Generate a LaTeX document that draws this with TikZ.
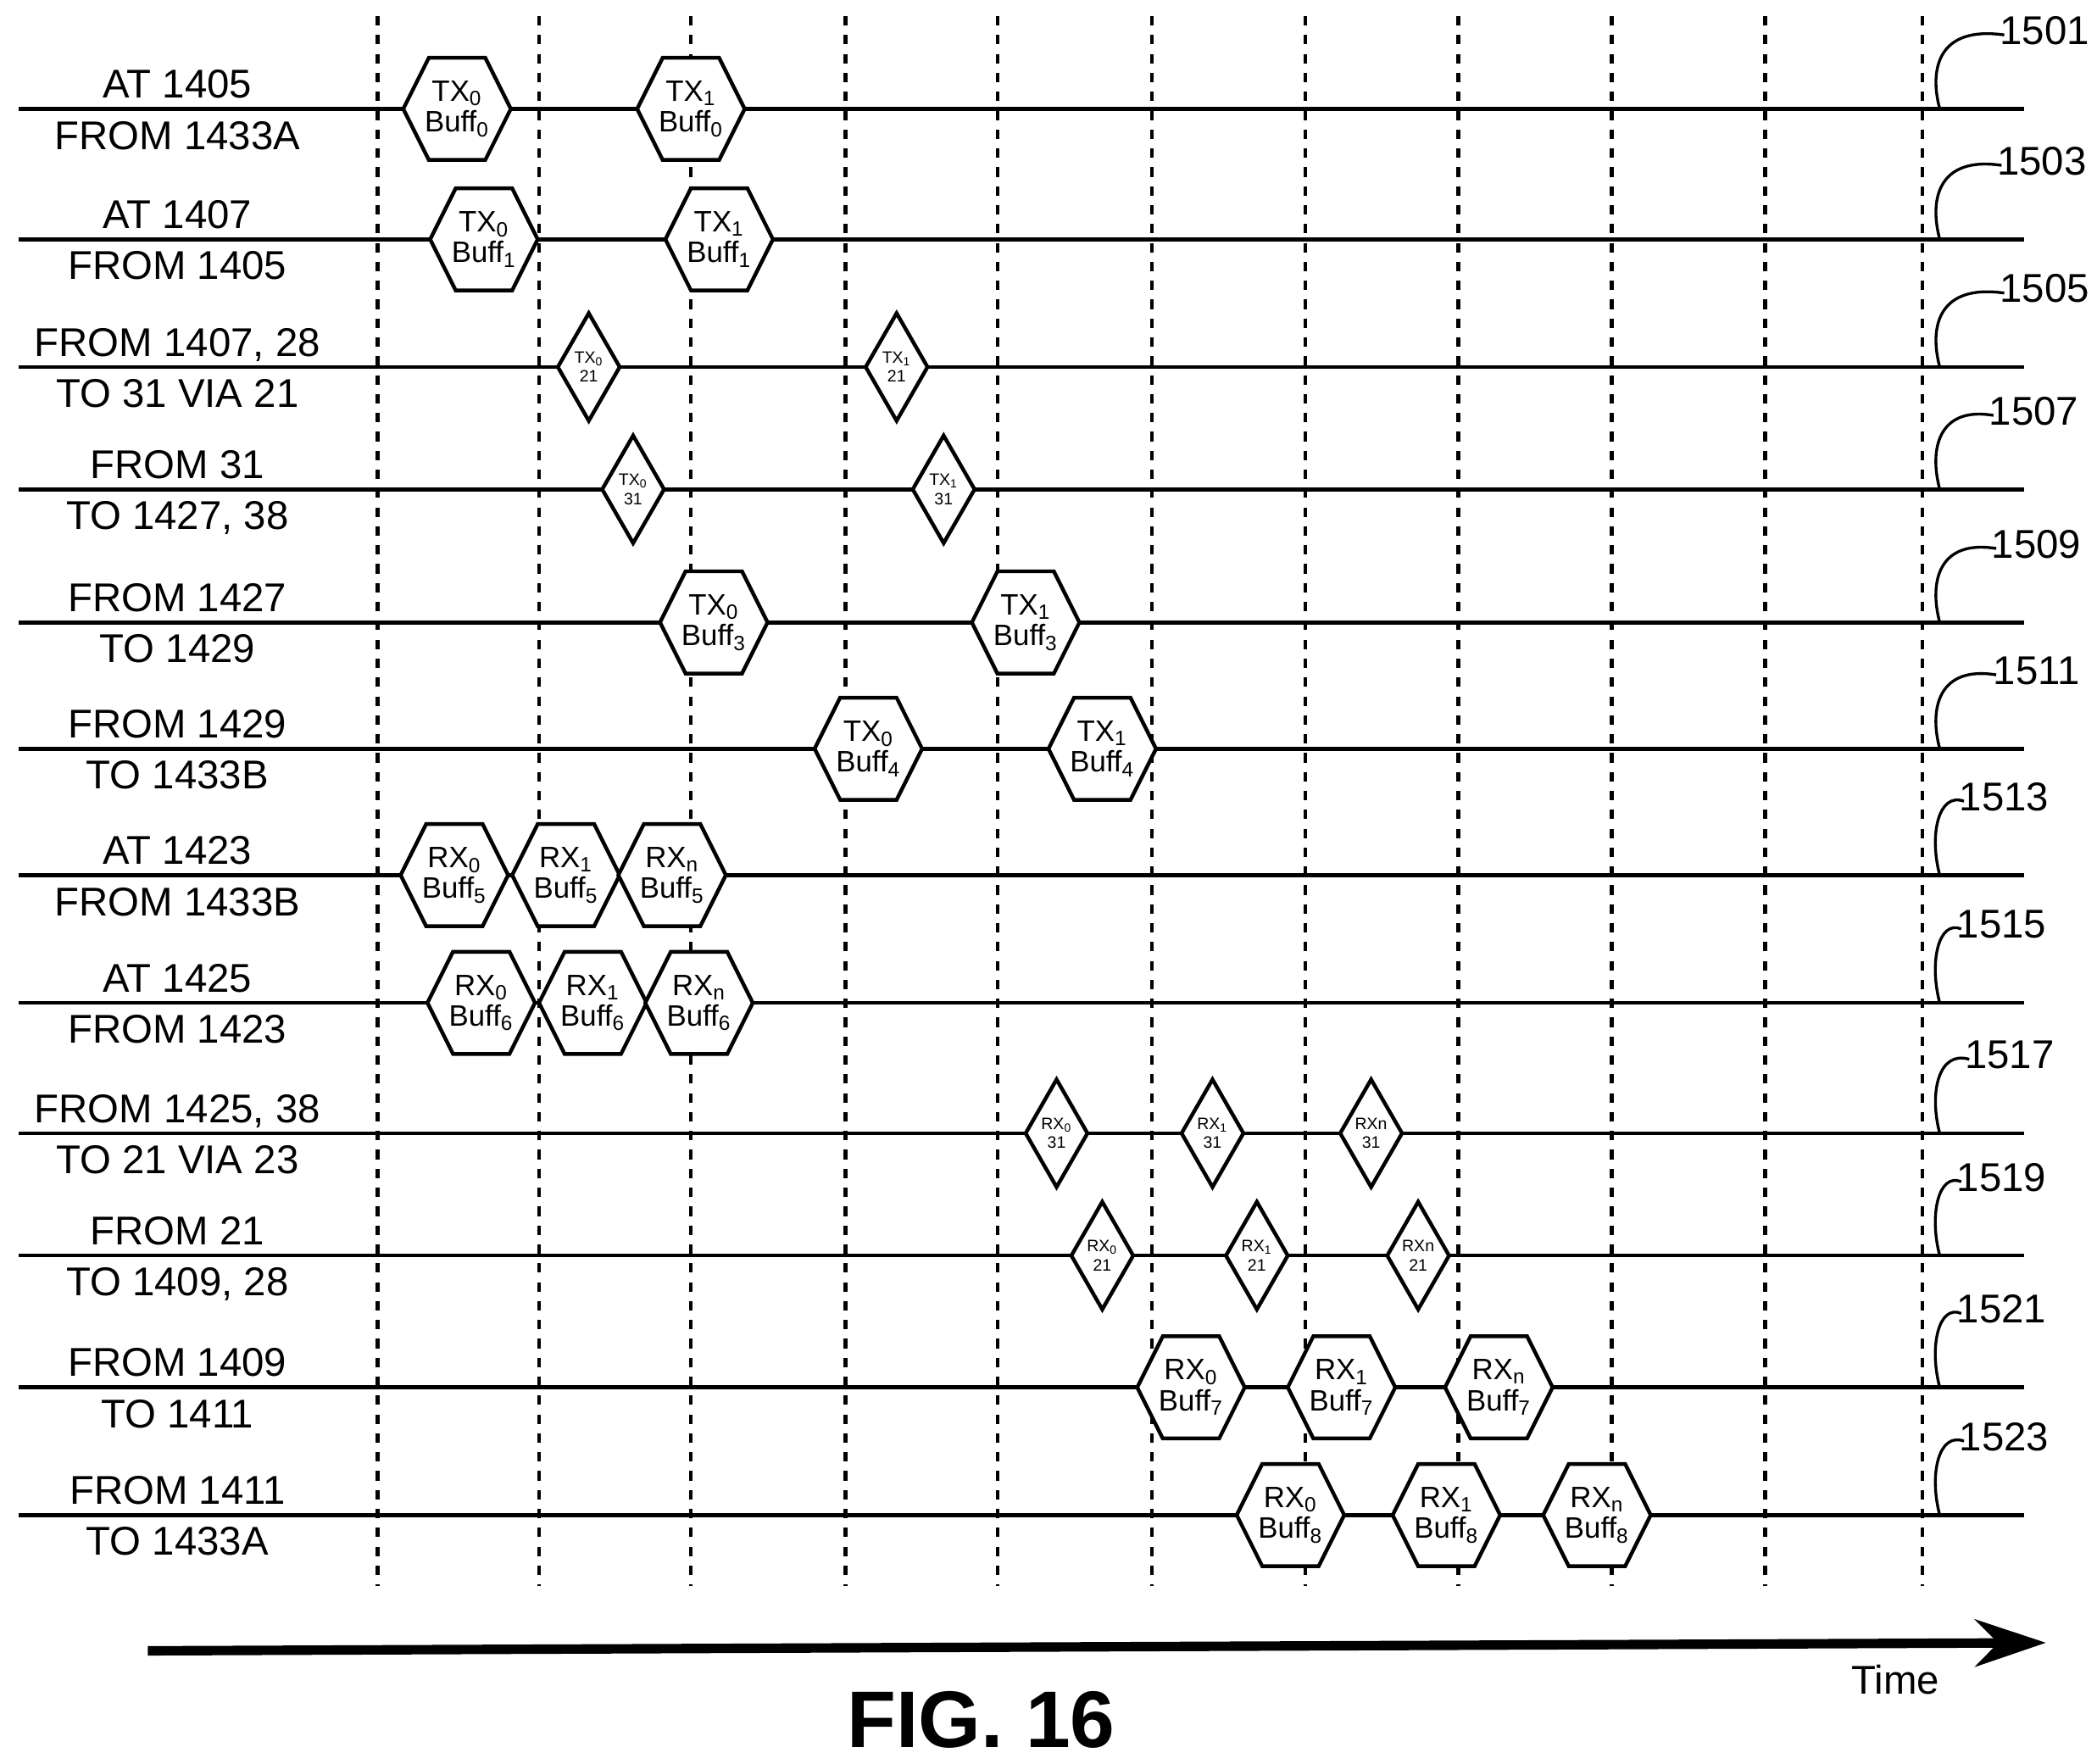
\documentclass[tikz,border=0pt]{standalone}
\usepackage{fontspec}
\setmainfont{Liberation Sans}
\usetikzlibrary{arrows.meta}
\tikzset{
  sig/.style={line width=1.6pt},
  grid/.style={line width=1.6pt, dash pattern=on 4pt off 4pt},
  lbl/.style={font=\fontsize{17}{19}\selectfont},
  hexbox/.style={draw, fill=white, line width=1.6pt},
  hextext/.style={font=\fontsize{12.5}{13}\selectfont, align=center, inner sep=0pt},
  dmdtext/.style={font=\fontsize{7}{8}\selectfont, align=center, inner sep=0pt},
}
\newcommand{\sub}[1]{\textsubscript{#1}}
% hexagon and diamond on a signal line
\newcommand{\hexa}[4]{%
  \filldraw[hexbox] (#2-40,#3) -- (#2-21,#3-38) -- (#2+21,#3-38) -- (#2+40,#3)
    -- (#2+21,#3+38) -- (#2-21,#3+38) -- cycle;
  \node[hextext] (#1) at (#2,#3) {#4};}
\newcommand{\dmd}[4]{%
  \filldraw[hexbox] (#2-23,#3) -- (#2,#3-40) -- (#2+23,#3) -- (#2,#3+40) -- cycle;
  \node[dmdtext] (#1) at (#2,#3) {#4};}
\begin{document}
\begin{tikzpicture}[x=0.02cm, y=-0.02cm]
  \useasboundingbox (0,0) rectangle (1560,1312);

  % time grid
  \foreach \x in {281,401,514,629,742,857,971,1085,1199,1313,1430}
    \draw[grid] (\x,12) -- (\x,1180);

  % signal lines, labels and reference numbers
  \foreach \y/\ta/\tb/\r/\rx in {
      81/AT 1405/FROM 1433A/1501/1527,
      178/AT 1407/FROM 1405/1503/1525,
      273/{FROM 1407, 28}/TO 31 VIA 21/1505/1527,
      364/FROM 31/{TO 1427, 38}/1507/1519,
      463/FROM 1427/TO 1429/1509/1521,
      557/FROM 1429/TO 1433B/1511/1521,
      651/AT 1423/FROM 1433B/1513/1497,
      746/AT 1425/FROM 1423/1515/1495,
      843/{FROM 1425, 38}/TO 21 VIA 23/1517/1501,
      934/FROM 21/{TO 1409, 28}/1519/1495,
      1032/FROM 1409/TO 1411/1521/1495,
      1127/FROM 1411/TO 1433A/1523/1497}{
    \draw[sig] (14,\y) -- (1506,\y);
    \node[lbl, anchor=base] (a\r) at (132,\y-8) {\ta};
    \node[lbl, anchor=base] (b\r) at (132,\y+30) {\tb};
    \node[lbl, anchor=base] (n\r) at (\rx-6,\y-48) {\r};
    \draw[line width=1.2pt] (1443,\y) .. controls (1435,\y-30) and (1442,\y-62) .. (\rx-36,\y-55);
  }

  % 1501 - 1511
  \hexa{t0b0}{340}{81}{TX\sub0\\Buff\sub0}
  \hexa{t1b0}{514}{81}{TX\sub1\\Buff\sub0}
  \hexa{t0b1}{360}{178}{TX\sub0\\Buff\sub1}
  \hexa{t1b1}{535}{178}{TX\sub1\\Buff\sub1}
  \dmd{t0a}{438}{273}{TX\sub0\\21}
  \dmd{t1a}{667}{273}{TX\sub1\\21}
  \dmd{t0c}{471}{364}{TX\sub0\\31}
  \dmd{t1c}{702}{364}{TX\sub1\\31}
  \hexa{t0b3}{531}{463}{TX\sub0\\Buff\sub3}
  \hexa{t1b3}{763}{463}{TX\sub1\\Buff\sub3}
  \hexa{t0b4}{646}{557}{TX\sub0\\Buff\sub4}
  \hexa{t1b4}{820}{557}{TX\sub1\\Buff\sub4}

  % 1513 - 1523
  \foreach \n/\x in {0/338,1/421,n/500}
    {\hexa{r\n b5}{\x}{651}{RX\sub\n\\Buff\sub5}}
  \foreach \n/\x in {0/358,1/441,n/520}
    {\hexa{r\n b6}{\x}{746}{RX\sub\n\\Buff\sub6}}
  \dmd{r0c}{786}{843}{RX\sub0\\31}
  \dmd{r1c}{902}{843}{RX\sub1\\31}
  \dmd{rnc}{1020}{843}{RXn\\31}
  \dmd{r0a}{820}{934}{RX\sub0\\21}
  \dmd{r1a}{935}{934}{RX\sub1\\21}
  \dmd{rna}{1055}{934}{RXn\\21}
  \foreach \n/\x in {0/886,1/998,n/1115}
    {\hexa{r\n b7}{\x}{1032}{RX\sub\n\\Buff\sub7}}
  \foreach \n/\x in {0/960,1/1076,n/1188}
    {\hexa{r\n b8}{\x}{1127}{RX\sub\n\\Buff\sub8}}

  % time axis
  \coordinate (t0) at (110,1228);
  \coordinate (t1) at (1522,1222);
  \draw[line width=4pt, -{Stealth[length=30pt, width=20pt]}] (t0) -- (t1);
  \node[lbl, anchor=base] (time) at (1410,1260) {Time};
  \node[font=\bfseries\fontsize{34}{38}\selectfont, anchor=base] (fig) at (730,1300) {FIG. 16};
\end{tikzpicture}
\end{document}
